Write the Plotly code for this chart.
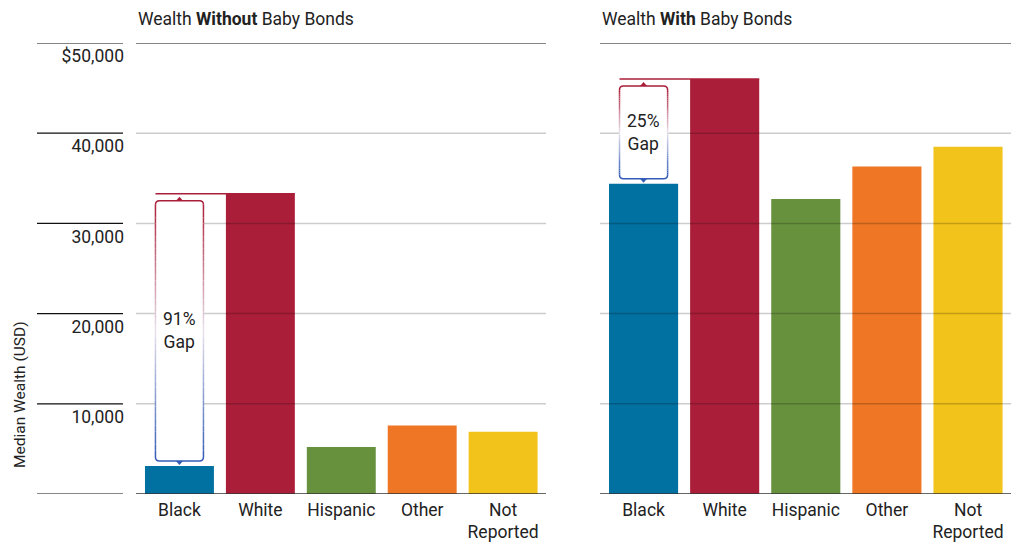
import plotly.graph_objects as go

# ---- data ----
categories = ["Black", "White", "Hispanic", "Other", "Not<br>Reported"]
wealth_without = [3100, 33300, 5200, 7600, 6900]
wealth_with = [34400, 46000, 32700, 36300, 38500]
bar_colors = ["#0071a0", "#ab1e39", "#67913d", "#ee7624", "#f2c31a"]
y_ticks = [10000, 20000, 30000, 40000, 50000]
y_tick_labels = ["10,000", "20,000", "30,000", "40,000", "$50,000"]
panel_titles = ["Wealth <b>Without</b> Baby Bonds", "Wealth <b>With</b> Baby Bonds"]

FONT = "Roboto, Arial, sans-serif"
TEXT = "#222222"
W, H = 1019, 548
Y_MAX = 50000
X_RANGE = [-0.537, 4.53]
BAR_W = 0.852

# plot area in pixels
LEFT_PX = (136, 546)
RIGHT_PX = (600, 1011)
TOP_PX, BOT_PX = 43, 494
PX_PER_UNIT_Y = (BOT_PX - TOP_PX) / Y_MAX
PX_PER_UNIT_X = (LEFT_PX[1] - LEFT_PX[0]) / (X_RANGE[1] - X_RANGE[0])

idx = list(range(len(categories)))
y_dom = [1 - BOT_PX / H, 1 - TOP_PX / H]

fig = go.Figure()
fig.add_trace(go.Bar(x=idx, y=wealth_without, marker_color=bar_colors, width=BAR_W,
                     marker_line_width=0, xaxis="x", yaxis="y", hoverinfo="skip",
                     showlegend=False))
fig.add_trace(go.Bar(x=idx, y=wealth_with, marker_color=bar_colors, width=BAR_W,
                     marker_line_width=0, xaxis="x2", yaxis="y2", hoverinfo="skip",
                     showlegend=False))

xcommon = dict(range=X_RANGE, tickmode="array", tickvals=idx, ticktext=categories,
               showgrid=False, zeroline=False, showline=False, ticks="",
               tickfont=dict(family=FONT, size=17.5, color=TEXT), fixedrange=True,
               ticklabelstandoff=3, automargin=False)
fig.update_layout(
    width=W, height=H, margin=dict(l=0, r=0, t=0, b=0, autoexpand=False),
    paper_bgcolor="white", plot_bgcolor="white",
    xaxis=dict(domain=[LEFT_PX[0] / W, LEFT_PX[1] / W], anchor="y", **xcommon),
    xaxis2=dict(domain=[RIGHT_PX[0] / W, RIGHT_PX[1] / W], anchor="y2", **xcommon),
    yaxis=dict(domain=y_dom, range=[0, Y_MAX], anchor="x", tickmode="array",
               tickvals=y_ticks, ticktext=y_tick_labels, showgrid=False,
               zeroline=False, showline=False, ticks="",
               tickfont=dict(family=FONT, size=17.5, color=TEXT),
               ticklabelstandoff=11, ticklabelshift=13, fixedrange=True,
               automargin=False),
    yaxis2=dict(domain=y_dom, range=[0, Y_MAX], anchor="x2", showgrid=False,
                zeroline=False, showline=False, showticklabels=False, fixedrange=True,
                automargin=False),
    bargap=0.15,
)

shapes = []
# grid lines drawn over the bars
for xr, yr in (("x domain", "y"), ("x2 domain", "y2")):
    for v in y_ticks[:-1]:
        shapes.append(dict(type="line", xref=xr, yref=yr, x0=0, x1=1, y0=v, y1=v,
                           line=dict(color="rgba(0,0,0,0.2)", width=1.5), layer="above"))
    shapes.append(dict(type="line", xref=xr, yref=yr, x0=0, x1=1, y0=Y_MAX, y1=Y_MAX,
                       line=dict(color="#858585", width=2), layer="above"))
    shapes.append(dict(type="line", xref=xr, yref=yr, x0=0, x1=1, y0=0, y1=0,
                       line=dict(color="#333333", width=1.5), layer="above"))

# tick rules left of the first panel
for v in [0] + y_ticks:
    top = v == Y_MAX
    shapes.append(dict(type="line", xref="paper", yref="y", x0=37 / W, x1=123 / W,
                       y0=v, y1=v,
                       line=dict(color="#858585" if top else "#111111",
                                 width=2 if top else 1.2)))


def mix(c1, c2, t):
    return "rgb(%d,%d,%d)" % tuple(round(a + (b - a) * t) for a, b in zip(c1, c2))


RED = (171, 30, 57)
MID = (232, 226, 236)
BLUE = (52, 92, 182)


def grad(t):
    return mix(RED, MID, t / 0.5) if t <= 0.5 else mix(MID, BLUE, (t - 0.5) / 0.5)


def gap_marker(xr, yr, values):
    """Gap bracket between the Black and White bars of one panel."""
    black, white = values[0], values[1]
    cx = idx[0]
    hw = 24 / PX_PER_UNIT_X
    x0, x1 = cx - hw, cx + hw
    ytop = white - 7 / PX_PER_UNIT_Y
    ybot = black + 5 / PX_PER_UNIT_Y
    rx, ry = 4 / PX_PER_UNIT_X, 4 / PX_PER_UNIT_Y
    out = []
    # reference line at the White level
    out.append(dict(type="line", xref=xr, yref=yr, x0=x0, x1=idx[1] + BAR_W / 2,
                    y0=white, y1=white, line=dict(color="#ab1e39", width=1.5),
                    layer="above"))
    # white rounded box
    body = (f"M {x0},{ytop - ry} Q {x0},{ytop} {x0 + rx},{ytop} L {x1 - rx},{ytop} "
            f"Q {x1},{ytop} {x1},{ytop - ry} L {x1},{ybot + ry} Q {x1},{ybot} {x1 - rx},{ybot} "
            f"L {x0 + rx},{ybot} Q {x0},{ybot} {x0},{ybot + ry} Z")
    out.append(dict(type="path", xref=xr, yref=yr, path=body, fillcolor="white",
                    line=dict(width=0), layer="above"))
    # border with a red-to-blue fade
    out.append(dict(type="path", xref=xr, yref=yr, layer="above",
                    path=(f"M {x0},{ytop - ry} Q {x0},{ytop} {x0 + rx},{ytop} L {x1 - rx},{ytop} "
                          f"Q {x1},{ytop} {x1},{ytop - ry}"),
                    line=dict(color=grad(0), width=1.5)))
    out.append(dict(type="path", xref=xr, yref=yr, layer="above",
                    path=(f"M {x0},{ybot + ry} Q {x0},{ybot} {x0 + rx},{ybot} L {x1 - rx},{ybot} "
                          f"Q {x1},{ybot} {x1},{ybot + ry}"),
                    line=dict(color=grad(1), width=1.5)))
    n = 40
    ya, yb = ytop - ry, ybot + ry
    for i in range(n):
        s0 = ya + (yb - ya) * i / n
        s1 = ya + (yb - ya) * (i + 1) / n
        col = grad((i + 0.5) / n)
        for xx in (x0, x1):
            out.append(dict(type="line", xref=xr, yref=yr, x0=xx, x1=xx, y0=s0, y1=s1,
                            line=dict(color=col, width=1.5), layer="above"))
    # arrow heads
    ah, aw = 4 / PX_PER_UNIT_Y, 3.5 / PX_PER_UNIT_X
    out.append(dict(type="path", xref=xr, yref=yr, layer="above",
                    path=f"M {cx - aw},{ytop} L {cx + aw},{ytop} L {cx},{ytop + ah} Z",
                    fillcolor=grad(0), line=dict(width=0)))
    out.append(dict(type="path", xref=xr, yref=yr, layer="above",
                    path=f"M {cx - aw},{ybot} L {cx + aw},{ybot} L {cx},{ybot - ah} Z",
                    fillcolor=grad(1), line=dict(width=0)))
    pct = round((white - black) / white * 100)
    label = dict(xref=xr, yref=yr, x=cx, y=(ytop + ybot) / 2,
                 text=f"{pct}%<br>Gap", showarrow=False,
                 font=dict(family=FONT, size=17.5, color=TEXT), align="center")
    return out, label


annotations = []
for xr, yr, vals in (("x", "y", wealth_without), ("x2", "y2", wealth_with)):
    s, lab = gap_marker(xr, yr, vals)
    shapes += s
    annotations.append(lab)

# panel titles
for title, px in zip(panel_titles, (LEFT_PX[0], RIGHT_PX[0])):
    annotations.append(dict(xref="paper", yref="paper", x=px / W, y=1 - 19 / H,
                            xanchor="left", yanchor="middle", text=title,
                            showarrow=False, font=dict(family=FONT, size=17.5, color=TEXT)))

# y-axis title
annotations.append(dict(xref="paper", yref="paper", x=20 / W, y=1 - 395 / H,
                        xanchor="center", yanchor="middle", textangle=-90,
                        text="Median Wealth (USD)", showarrow=False,
                        font=dict(family=FONT, size=15.5, color=TEXT)))

fig.update_layout(shapes=shapes, annotations=annotations)
fig.write_html("out.html")
